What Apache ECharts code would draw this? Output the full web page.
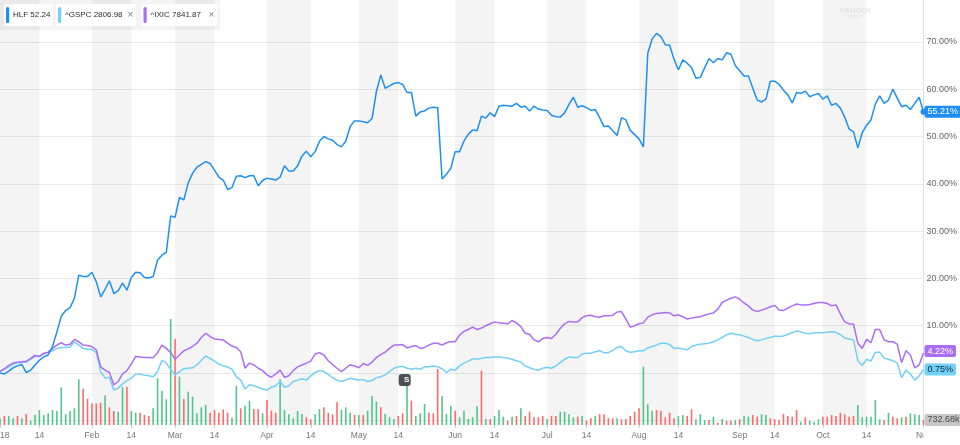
<!DOCTYPE html>
<html>
<head>
<meta charset="utf-8">
<script src="https://cdn.jsdelivr.net/npm/echarts/dist/echarts.min.js"></script>
<style>
html,body{margin:0;padding:0;background:#fff;}
#chart{width:960px;height:445px;}
</style>
</head>
<body>
<div id="chart"></div>
<script>
// ---------- DATA ----------
const holidays = ['2018-01-15','2018-02-19','2018-03-30','2018-05-28','2018-07-04','2018-09-03'];
const firstDay = '2018-01-02';
const lastDay = '2018-11-01';

// HLF % change
const hlf = [
0.0,-0.2,0.4,1.1,1.5,1.8,0.1,0.6,1.7,2.7,
3.4,3.8,5.6,8.7,12.0,13.2,13.8,15.8,20.7,20.4,
20.4,21.3,19.3,16.1,17.7,19.5,16.8,17.4,19.0,17.5,
20.2,21.3,21.2,20.2,20.1,20.4,23.9,24.9,25.5,33.2,
32.9,37.1,36.6,40.2,42.2,43.5,44.1,44.7,44.3,42.9,
41.4,40.8,38.8,39.2,41.6,41.7,41.3,41.7,41.7,39.6,
40.7,41.2,41.0,40.8,41.4,43.8,42.7,42.7,43.8,45.9,
46.9,45.7,46.8,49.0,50.0,49.5,49.2,48.3,47.8,49.0,
52.1,53.3,53.3,53.1,52.9,53.8,59.5,63.0,60.2,60.7,
61.2,61.4,61.0,59.3,59.3,54.3,55.2,55.4,56.0,56.2,
56.1,41.0,42.0,43.3,46.8,46.8,49.0,50.5,51.4,51.2,
54.3,53.9,55.0,54.2,56.4,56.6,56.5,56.4,57.0,56.2,
56.4,55.4,56.4,55.8,55.6,55.5,54.5,54.2,54.1,55.0,
56.8,58.3,56.2,56.5,56.1,55.5,55.7,54.0,52.1,52.2,
51.2,50.2,54.0,53.5,51.3,50.4,49.5,47.8,67.6,70.6,
71.8,71.1,69.4,69.3,66.3,64.1,66.2,65.5,64.6,62.3,
62.5,64.5,66.5,65.6,66.5,66.2,67.7,67.4,65.0,63.9,
62.8,62.8,60.2,57.7,57.3,57.9,61.7,61.7,61.0,59.8,
58.8,57.1,59.3,59.1,59.6,58.4,58.8,59.1,57.9,58.6,
56.6,57.0,56.0,54.1,51.6,51.0,47.6,50.8,52.4,53.5,
56.9,58.6,57.0,57.7,60.0,58.1,56.3,56.6,55.7,57.0,
58.3,55.21];

// ^GSPC % change
const gspc = [
0.4,0.8,1.3,1.9,2.1,2.2,2.3,2.9,3.5,3.5,
4.0,4.3,4.7,5.2,5.4,5.4,5.5,6.6,5.9,5.2,
5.0,5.0,4.3,0.3,-1.1,-0.9,-3.6,-3.2,-2.3,-1.6,
-1.1,-0.2,-0.2,-0.5,-0.6,-0.8,0.3,2.7,2.1,0.8,
-0.4,0.3,0.9,1.0,1.1,1.7,2.7,3.6,3.1,2.5,
1.9,1.5,1.3,0.8,-0.8,-1.5,-3.4,-2.5,-2.7,-3.0,
-3.4,-3.6,-3.0,-2.7,-1.8,-3.0,-2.7,-1.8,-1.5,-1.2,
-1.5,-0.6,0.1,0.5,0.3,-0.3,-1.0,-1.5,-1.8,-1.5,
-1.1,-1.3,-1.5,-1.4,-1.8,-1.6,-1.0,-0.8,-0.4,0.3,
1.0,1.3,1.4,1.0,0.8,1.0,0.8,1.3,1.3,1.5,
1.3,0.9,0.1,0.8,0.6,1.5,2.1,2.5,3.0,2.9,
3.1,3.3,3.3,3.4,3.4,3.3,3.1,2.9,2.6,2.3,
1.5,1.1,0.8,0.6,1.0,1.2,1.0,1.5,2.2,2.9,
3.4,3.3,3.3,4.0,4.2,4.2,4.5,4.7,4.3,4.3,
4.8,5.4,5.6,4.7,4.4,4.5,4.7,4.7,5.3,5.6,
5.9,6.3,6.3,6.0,5.2,5.3,5.1,4.9,5.6,5.9,
6.1,6.2,6.3,6.6,7.0,7.5,8.1,8.4,8.2,8.1,
7.8,7.5,7.1,6.8,7.0,7.3,7.5,7.8,7.7,7.8,
8.2,8.5,8.9,8.7,8.4,8.3,8.5,8.5,8.5,8.6,
8.7,8.6,8.1,7.4,7.2,7.0,2.6,1.6,2.9,2.5,
4.4,4.4,3.1,2.9,2.6,2.1,-1.0,0.6,-0.2,-1.5,
-0.6,0.75];

// ^IXIC % change
const ixic = [
0.3,0.9,1.6,2.1,2.3,2.4,2.5,3.1,3.7,3.5,
4.2,4.4,5.2,5.9,6.4,5.9,6.1,7.1,6.6,5.9,
5.8,5.6,4.9,1.3,0.6,0.1,-2.5,-1.8,-0.2,0.5,
1.9,3.5,3.4,3.3,3.3,3.2,4.3,5.9,5.2,4.3,
2.9,3.8,4.7,5.1,5.6,6.3,7.5,8.4,7.7,7.2,
7.1,7.0,6.3,5.7,5.4,4.5,1.0,2.1,1.7,1.0,
0.5,-0.4,-0.9,-0.2,0.6,-0.9,-0.6,0.5,1.3,1.7,
2.1,2.5,4.0,4.3,3.8,2.6,1.8,1.0,0.3,1.0,
1.7,1.5,1.1,2.0,1.6,2.3,3.3,3.9,4.4,5.2,
5.9,5.9,6.0,5.3,5.6,5.8,5.2,5.4,5.9,6.3,
6.3,5.9,6.4,6.6,6.6,8.0,8.8,9.2,9.7,9.2,
9.5,10.0,10.4,10.8,10.6,10.5,10.4,11.1,10.6,9.8,
8.4,8.2,7.0,6.6,7.3,7.5,7.3,8.2,9.4,10.4,
10.9,10.8,10.8,11.7,12.1,12.2,11.9,11.8,12.1,12.1,
12.2,12.9,13.0,11.4,9.7,10.0,10.4,10.6,11.8,12.3,
12.6,12.7,12.8,12.7,12.1,12.3,11.9,11.4,11.6,11.8,
11.9,12.2,12.5,12.7,13.5,14.9,15.4,15.8,16.1,15.6,
14.8,14.2,13.3,13.0,13.3,13.6,14.0,14.3,13.3,13.2,
13.7,14.2,14.6,14.4,14.4,14.5,14.7,14.9,14.9,14.7,
14.2,14.4,12.5,10.8,10.4,10.3,6.3,5.2,7.1,6.4,
9.2,9.2,7.0,6.6,6.6,6.1,2.2,4.7,3.8,1.1,
1.7,4.22];

// HLF volume (millions)
const volume = [
0.98,1.32,1.32,0.98,1.32,0.98,1.61,0.63,1.47,2.20,
1.47,1.71,2.20,2.05,5.52,1.57,2.05,2.45,6.70,5.32,
3.85,3.18,3.18,3.27,4.35,2.59,2.05,1.95,5.61,5.61,
2.05,1.80,1.80,1.47,1.32,2.45,6.84,5.02,3.77,15.53,
12.60,7.08,3.81,4.88,4.15,1.71,2.59,2.93,1.80,2.20,
1.80,2.30,1.80,1.07,5.71,2.45,2.83,3.56,2.34,2.34,
1.71,3.66,2.09,1.80,6.70,2.20,1.57,0.98,2.05,1.61,
1.13,0.84,1.57,2.34,2.59,1.80,1.57,3.33,2.20,2.59,
1.80,1.47,1.47,1.47,2.09,4.25,3.41,2.59,1.61,1.13,
0.88,1.32,1.71,5.86,3.56,1.32,1.71,3.08,1.80,1.71,
8.20,4.25,1.61,2.78,2.09,1.13,2.09,0.88,1.13,2.78,
7.95,0.88,0.88,1.32,2.20,1.22,0.63,1.22,1.32,2.45,
1.32,1.95,1.13,1.13,1.32,0.88,1.32,1.32,1.95,1.95,
1.57,1.13,1.22,1.32,0.63,0.98,1.32,1.57,1.57,0.98,
0.98,0.98,0.84,0.88,1.32,1.95,2.45,8.54,3.03,2.09,
2.20,2.05,1.13,1.80,0.98,1.32,1.47,1.32,2.30,0.84,
1.57,0.73,0.73,1.22,0.34,0.88,0.63,0.63,0.73,0.84,
1.32,1.22,1.47,1.22,1.57,1.47,0.98,0.84,0.73,1.61,
1.32,1.22,2.20,0.48,1.13,0.63,0.48,0.84,1.22,1.22,
1.47,1.32,1.80,1.57,1.22,1.32,2.93,1.13,1.22,1.22,
3.66,0.84,0.73,1.80,1.22,0.98,1.13,1.22,1.71,1.57,
1.47,0.73268];

// 1 = up day (green), 0 = down day (red)
const volUp = [
1,0,1,1,0,1,0,1,1,1,
1,1,1,1,1,1,1,1,1,0,
0,0,0,0,1,0,0,1,1,0,
1,1,0,0,0,1,1,1,1,1,
0,1,0,1,1,1,1,1,0,0,
0,0,0,1,1,0,1,1,0,0,
1,0,0,0,1,1,1,1,1,1,
0,0,1,1,0,0,0,0,1,1,
1,0,1,0,1,1,1,0,1,1,
1,0,0,1,0,1,1,1,0,0,
0,1,1,1,0,1,1,1,1,1,
0,1,0,1,1,1,0,1,0,1,
0,0,0,0,0,1,0,0,1,1,
1,1,0,1,0,0,1,0,0,0,
0,1,0,0,0,0,0,1,1,1,
0,0,0,0,0,1,1,0,0,1,
1,1,0,1,0,1,0,0,1,0,
1,1,0,0,1,1,0,0,0,0,
0,0,0,1,0,1,1,1,0,0,
0,0,0,0,0,0,1,1,1,1,
1,1,0,1,0,0,1,0,1,1,
1,0];

const tickDates = ['2018-01-02','2018-01-16','2018-02-01','2018-02-14','2018-03-01','2018-03-14','2018-04-02','2018-04-16','2018-05-01','2018-05-14','2018-06-01','2018-06-14','2018-07-02','2018-07-16','2018-08-01','2018-08-14','2018-09-04','2018-09-14','2018-10-01','2018-10-15','2018-11-01'];
const tickTexts = ['2018','14','Feb','14','Mar','14','Apr','14','May','14','Jun','14','Jul','14','Aug','14','Sep','14','Oct','14','Nov'];

const legendNames = ['HLF','^GSPC','^IXIC'];
const legendPrices = ['52.24','2806.98','7841.87'];
const splitDate = '2018-05-15';
const splitLabel = 'S';
const splitLevel = -1.5;

// ---------- BUILD ----------
const dates = [];
(function(){
  const hol = new Set(holidays);
  const end = Date.parse(lastDay + 'T00:00:00Z');
  for (let t = Date.parse(firstDay + 'T00:00:00Z'); t <= end; t += 86400000) {
    const d = new Date(t), wd = d.getUTCDay(), s = d.toISOString().slice(0,10);
    if (wd !== 0 && wd !== 6 && !hol.has(s)) dates.push(s);
  }
})();

const tickMap = {};
tickDates.forEach((d,i) => tickMap[d] = tickTexts[i]);
const bands = [];
for (let k = 0; k + 1 < tickDates.length; k += 2) bands.push([{xAxis: tickDates[k]}, {xAxis: tickDates[k+1]}]);

const C_HLF = '#1e8ff2', C_GSPC = '#72cff8', C_IXIC = '#ab6df6';
const C_UP = '#4fc78b', C_DN = '#fd6a6a';
const FONT = 'Liberation Sans, Arial, Helvetica, sans-serif';
const last = dates.length - 1;

const gridL = 0, gridR = 36.5;

const chart = echarts.init(document.getElementById('chart'), null, {renderer: 'canvas'});

const GZ = 100;
function pill(x, w, color, name, price, closable) {
  const els = [
    {type:'rect', z:GZ, shape:{x:x, y:4, width:w, height:22, r:2}, style:{fill:'#fff'}},
    {type:'rect', z:GZ+1, shape:{x:x+2, y:7, width:3.2, height:16, r:1.5}, style:{fill:color}},
    {type:'text', z:GZ+1, x:x+9, y:15, style:{text:name + ' ' + price, fill:'#2b2b2b', fontSize:8, fontFamily:FONT, verticalAlign:'middle'}}
  ];
  if (closable) els.push({type:'text', z:GZ+1, x:x+w-5.5, y:15, style:{text:'\u00d7', fill:'#808080', fontSize:10, fontFamily:FONT, align:'center', verticalAlign:'middle'}});
  return els;
}

const option = {
  animation: false,
  backgroundColor: '#fff',
  textStyle: {fontFamily: FONT},
  grid: [
    {left: gridL, right: gridR, top: -5.4, bottom: 24.7, containLabel:false, outerBoundsMode:'none'},
    {left: gridL, right: gridR, top: 0, bottom: 20, containLabel:false, outerBoundsMode:'none'}
  ],
  xAxis: [
    {type:'category', gridIndex:0, data: dates, boundaryGap:false, show:false},
    {type:'category', gridIndex:1, data: dates, boundaryGap:false,
      axisLine:{show:false},
      axisTick:{show:true, length:3, lineStyle:{color:'#cfcfcf'}, interval:(i,v)=>tickMap[v]!==undefined},
      axisLabel:{interval:(i,v)=>tickMap[v]!==undefined, formatter:(v)=>tickMap[v]||'', color:'#777', fontSize:8.5, margin:6, fontFamily:FONT},
      splitLine:{show:false}}
  ],
  yAxis: [
    {type:'value', gridIndex:0, position:'right', min:-10, max:80, interval:10,
      axisLine:{show:false}, axisTick:{show:false},
      axisLabel:{margin:3, color:'#666', fontSize:9, fontFamily:FONT,
        formatter:(v)=> (v < 0 || v >= 80) ? '' : v.toFixed(2) + '%'},
      splitLine:{show:true, lineStyle:{color:'#eaeaea', width:1}}},
    {type:'value', gridIndex:1, position:'right', min:0, max:62.26,
      axisLine:{show:true, lineStyle:{color:'#e2e2e2', width:1}}, axisTick:{show:false},
      axisLabel:{show:false}, splitLine:{show:false}}
  ],
  series: [
    {type:'line', xAxisIndex:1, yAxisIndex:1, data:[], z:1, silent:true,
      markArea:{silent:true, itemStyle:{color:'rgba(0,0,0,0.042)'}, data: bands}},
    {type:'bar', xAxisIndex:1, yAxisIndex:1, barWidth:1.6, z:2,
      data: volume.map((v,i)=>({value:v, itemStyle:{color: volUp[i] ? C_UP : C_DN}})),
      markPoint:{symbol:'circle', symbolSize:0, silent:true,
        data:[{coord:[dates[last], volume[last]], value: volume[last],
          label:{show:true, position:'right', distance:1, formatter:(p)=> (p.value*1000).toFixed(2)+'k',
            backgroundColor:'#c6c6c6', color:'#4a4a4a', padding:[2,3,1,3], borderRadius:2, fontSize:9, fontFamily:FONT}}]}},
    {type:'line', xAxisIndex:0, yAxisIndex:0, name:'^GSPC', data: gspc, symbol:'none', z:3,
      lineStyle:{color:C_GSPC, width:1.5}, itemStyle:{color:C_GSPC},
      endLabel:{show:true, distance:1, formatter:(p)=>p.value.toFixed(2)+'%', backgroundColor:C_GSPC, color:'#0d2b3a',
        padding:[2,3,1,3], borderRadius:2, fontSize:9, fontFamily:FONT}},
    {type:'line', xAxisIndex:0, yAxisIndex:0, name:'^IXIC', data: ixic, symbol:'none', z:4,
      lineStyle:{color:C_IXIC, width:1.5}, itemStyle:{color:C_IXIC},
      endLabel:{show:true, distance:1, offset:[0,-2], formatter:(p)=>p.value.toFixed(2)+'%', backgroundColor:C_IXIC, color:'#fff',
        padding:[2,3,1,3], borderRadius:2, fontSize:9, fontFamily:FONT}},
    {type:'line', xAxisIndex:0, yAxisIndex:0, name:'HLF', data: hlf, symbol:'none', z:5,
      lineStyle:{color:C_HLF, width:1.5}, itemStyle:{color:C_HLF},
      endLabel:{show:true, distance:1, formatter:(p)=>p.value.toFixed(2)+'%', backgroundColor:C_HLF, color:'#fff',
        padding:[2,3,1,3], borderRadius:2, fontSize:9, fontFamily:FONT},
      markPoint:{silent:true, data:[
        {coord:[dates[last], hlf[last]], symbol:'circle', symbolSize:6, itemStyle:{color:C_HLF}, label:{show:false}},
        {coord:[splitDate, splitLevel], symbol:'roundRect', symbolSize:[12,12], symbolOffset:[2,0],
          itemStyle:{color:'#4b4f56'},
          label:{show:true, formatter:splitLabel, position:'inside', offset:[2,0], color:'#fff', fontSize:8, fontWeight:'bold', fontFamily:FONT}}
      ]}}
  ],
  graphic: [
    {type:'rect', z:GZ-1, shape:{x:0, y:0, width:220, height:30}, style:{fill:'rgba(0,0,0,0.045)'}},
    ...pill(4, 49, C_HLF, legendNames[0], legendPrices[0], false),
    ...pill(56, 80, C_GSPC, legendNames[1], legendPrices[1], true),
    ...pill(141.5, 75.5, C_IXIC, legendNames[2], legendPrices[2], true),
    {type:'text', z:GZ, x:855, y:11, style:{text:'YAHOO!', fill:'#e4e4e4', fontSize:8, fontWeight:'bold', fontFamily:FONT, align:'center', verticalAlign:'middle'}},
    {type:'text', z:GZ, x:854, y:16.5, style:{text:'FINANCE', fill:'#e4e4e4', fontSize:4, fontFamily:FONT, align:'center', verticalAlign:'middle'}},
    {type:'rect', z:GZ, shape:{x:923.8, y:428, width:40, height:17}, style:{fill:'#fff'}}
  ]
};
chart.setOption(option);
</script>
</body>
</html>
